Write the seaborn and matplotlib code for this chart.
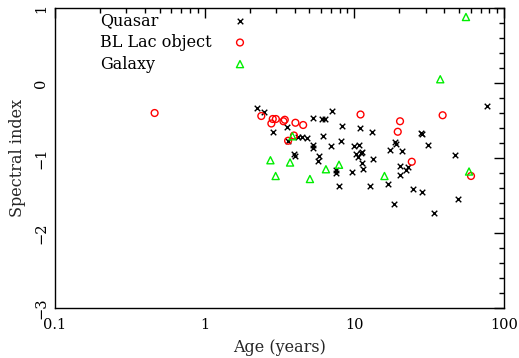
import numpy as np
import pandas as pd
import matplotlib
matplotlib.use("Agg")
import matplotlib.pyplot as plt
from matplotlib.ticker import LogLocator, MultipleLocator, FixedLocator
import seaborn as sns

# Quasars: age (years) and spectral index
quasar_age = [2.22, 2.48, 3.53, 2.88, 4.23, 4.80, 3.61, 3.96, 4.00,
              7.12, 5.31, 6.10, 6.36, 8.31, 10.9, 13.2, 4.44, 6.17, 8.19,
              5.30, 5.31, 6.98, 10.0, 10.8, 11.2, 11.1, 10.2, 18.8, 18.9,
              17.3, 20.9, 5.85, 5.71, 10.5, 11.2, 11.5, 13.4, 20.3, 23.0,
              22.1, 20.1, 7.56, 7.60, 9.61, 16.8, 7.90, 12.7, 18.5, 77.2,
              28.1, 28.4, 30.9, 46.7, 24.6, 28.3, 49.0, 34.0]
quasar_index = [-0.33, -0.38, -0.59, -0.65, -0.72, -0.73, -0.77, -0.95, -0.97,
                -0.37, -0.47, -0.48, -0.48, -0.57, -0.60, -0.65, -0.72, -0.71, -0.77,
                -0.83, -0.87, -0.84, -0.84, -0.82, -0.92, -0.93, -0.94, -0.78, -0.81,
                -0.89, -0.91, -0.97, -1.04, -0.99, -1.06, -1.14, -1.01, -1.10, -1.12,
                -1.16, -1.23, -1.16, -1.20, -1.19, -1.34, -1.37, -1.37, -1.61, -0.30,
                -0.67, -0.68, -0.82, -0.96, -1.41, -1.45, -1.55, -1.73]

# BL Lac objects
bllac_age = [0.463, 2.39, 2.85, 2.99, 2.79, 3.36, 3.43, 4.04, 4.55, 3.95,
             3.61, 11.0, 20.2, 19.5, 38.9, 24.2, 60.2]
bllac_index = [-0.40, -0.44, -0.48, -0.48, -0.54, -0.51, -0.49, -0.53, -0.56, -0.70,
               -0.77, -0.42, -0.51, -0.65, -0.43, -1.05, -1.24]

# Galaxies
galaxy_age = [3.86, 2.75, 3.72, 2.98, 5.05, 6.46, 7.90, 15.9, 55.7, 37.5, 58.4]
galaxy_index = [-0.71, -1.03, -1.06, -1.24, -1.28, -1.15, -1.09, -1.24, 0.88, 0.05, -1.18]

classes = ["Quasar", "BL Lac object", "Galaxy"]
x_ticks = [0.1, 1, 10, 100]
x_ticklabels = ["0.1", "1", "10", "100"]
y_ticks = [1, 0, -1, -2, -3]
y_ticklabels = ["1", "0", "\u22121", "\u22122", "\u22123"]

df = pd.concat([
    pd.DataFrame({"age": quasar_age, "index": quasar_index, "type": classes[0]}),
    pd.DataFrame({"age": bllac_age, "index": bllac_index, "type": classes[1]}),
    pd.DataFrame({"age": galaxy_age, "index": galaxy_index, "type": classes[2]}),
], ignore_index=True)

sns.set_theme(style="white")
plt.rcParams["font.family"] = ["DejaVu Serif"]
plt.rcParams["mathtext.fontset"] = "dejavuserif"

fig = plt.figure(figsize=(5.19, 3.58), dpi=100)
ax = fig.add_axes([55 / 519, 1 - 308 / 358, 449 / 519, 300 / 358])

styles = {
    "Quasar": dict(marker="x", color="black", s=16, linewidths=1.0),
    "BL Lac object": dict(marker="o", color="red", facecolors="none",
                          edgecolors="red", s=24, linewidths=1.0),
    "Galaxy": dict(marker="^", color="#00ee00", facecolors="none",
                   edgecolors="#00ee00", s=26, linewidths=1.0),
}

for name in classes:
    sub = df[df["type"] == name]
    sns.scatterplot(data=sub, x="age", y="index", ax=ax, legend=False,
                    **styles[name])

ax.set_xscale("log")
ax.set_xlim(0.1, 100)
ax.set_ylim(-3, 1)

ax.xaxis.set_major_locator(FixedLocator(x_ticks))
ax.set_xticklabels(x_ticklabels)
ax.xaxis.set_minor_locator(LogLocator(base=10, subs=np.arange(2, 10)))
ax.xaxis.set_minor_formatter(plt.NullFormatter())
ax.yaxis.set_major_locator(FixedLocator(y_ticks))
ax.set_yticklabels(y_ticklabels, rotation=90, va="center")
ax.yaxis.set_minor_locator(MultipleLocator(0.2))

ax.tick_params(which="both", direction="in", top=True, right=True,
               colors="black", labelsize=10.5, width=1.0)
ax.tick_params(which="major", length=7)
ax.tick_params(axis="x", which="major", pad=7)
ax.tick_params(axis="y", which="major", pad=5)
ax.tick_params(which="minor", length=3.5)
for sp in ax.spines.values():
    sp.set_color("black")
    sp.set_linewidth(1.0)

ax.set_xlabel("Age (years)", fontsize=11.5, labelpad=5)
ax.set_ylabel("Spectral index", fontsize=11.5, labelpad=6)

# legend: label text on the left, marker sample to the right
legend_y = [0.957, 0.885, 0.813]
for name, yy in zip(classes, legend_y):
    ax.text(0.100, yy, name, transform=ax.transAxes, fontsize=11.5,
            va="center", ha="left", color="black")
    st = dict(styles[name])
    ax.scatter([0.412], [yy], transform=ax.transAxes, clip_on=False, **st)

fig.savefig("out.png", dpi=100, facecolor="white")
